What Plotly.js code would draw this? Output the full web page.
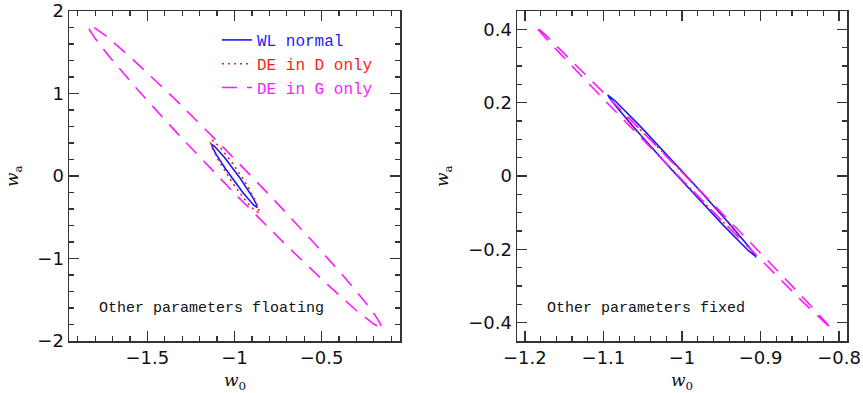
<!DOCTYPE html>
<html>
<head>
<meta charset="utf-8">
<script src="https://cdn.plot.ly/plotly-3.0.1.min.js"></script>
<style>
  html, body { margin: 0; padding: 0; background: #fff; }
  #plot { width: 863px; height: 393px; }
</style>
</head>
<body>
<div id="plot"></div>
<script>
// Fiducial model (centre of every contour)
const fiducialW0 = -1;
const fiducialWa = 0;

// Series shown in both panels
const seriesNames = ['WL normal', 'DE in D only', 'DE in G only'];
const seriesColors = ['#1a1aff', '#ff1a1a', '#ff19ff'];
const seriesDash = ['solid', '2px,4px', '15px,10px'];

// Left panel: other parameters floating (half-extent in w0, half-extent in wa, correlation)
const floatingW0Extent = [0.13, 0.14, 0.84];
const floatingWaExtent = [0.38, 0.44, 1.83];
const floatingCorr = [-0.984, -0.962, -0.9934];

// Right panel: other parameters fixed
const fixedW0Extent = [0.094, 0.073, 0.187];
const fixedWaExtent = [0.22, 0.165, 0.41];
const fixedCorr = [-0.998, -0.9978, -0.99965];

// Contour outline from the error ellipse parameters
function ellipse(sx, sy, rho) {
    const xs = [];
    const ys = [];
    const n = 720;
    const k = Math.sqrt(1 - rho * rho);
    for (let i = 0; i <= n; i++) {
        const t = 2 * Math.PI * i / n;
        xs.push(fiducialW0 + sx * Math.cos(t));
        ys.push(fiducialWa + sy * (rho * Math.cos(t) + k * Math.sin(t)));
    }
    return { xs, ys };
}

const traces = [];
seriesNames.forEach((name, i) => {
    const e = ellipse(floatingW0Extent[i], floatingWaExtent[i], floatingCorr[i]);
    traces.push({
        x: e.xs, y: e.ys,
        mode: 'lines',
        name: '<span style="color:' + seriesColors[i] + '">' + name + '</span>',
        line: { color: seriesColors[i], width: 1.6, dash: seriesDash[i] },
        xaxis: 'x', yaxis: 'y',
        hoverinfo: 'skip'
    });
});
seriesNames.forEach((name, i) => {
    const e = ellipse(fixedW0Extent[i], fixedWaExtent[i], fixedCorr[i]);
    traces.push({
        x: e.xs, y: e.ys,
        mode: 'lines',
        name: name,
        showlegend: false,
        line: { color: seriesColors[i], width: 1.6, dash: seriesDash[i] },
        xaxis: 'x2', yaxis: 'y2',
        hoverinfo: 'skip'
    });
});

const frame = '#333';
const tickFont = { family: 'DejaVu Sans', size: 18, color: '#111' };

function axis(range, dtick, minorDtick, domain, anchor) {
    return {
        range: range,
        domain: domain,
        anchor: anchor,
        dtick: dtick,
        tick0: 0,
        showgrid: false,
        zeroline: false,
        showline: true,
        linecolor: frame,
        linewidth: 1.5,
        mirror: 'allticks',
        ticks: 'inside',
        ticklen: 10,
        tickwidth: 1.3,
        tickcolor: frame,
        tickfont: tickFont,
        minor: { ticks: 'inside', ticklen: 5, tickwidth: 1.2, tickcolor: frame, dtick: minorDtick, showgrid: false }
    };
}

const yDomain = [1 - 341 / 393, 1 - 11 / 393];

const titleFont = { family: 'DejaVu Serif', size: 17, color: '#111' };
const noteFont = { family: 'Liberation Mono', size: 15, color: '#111' };

const layout = {
    width: 863,
    height: 393,
    margin: { l: 0, r: 0, t: 0, b: 0 },
    paper_bgcolor: '#fff',
    plot_bgcolor: '#fff',
    showlegend: true,
    legend: {
        x: 217 / 863, xanchor: 'left',
        y: 1 - 23 / 393, yanchor: 'top',
        bgcolor: 'rgba(0,0,0,0)',
        font: { family: 'Liberation Mono', size: 16 },
        itemwidth: 30,
        tracegroupgap: 0
    },
    xaxis: axis([-1.95, -0.05], 0.5, 0.1, [69 / 863, 400 / 863], 'y'),
    yaxis: axis([-2, 2], 1, 0.2, yDomain, 'x'),
    xaxis2: axis([-1.21, -0.79], 0.1, 0.02, [517 / 863, 847 / 863], 'y2'),
    yaxis2: axis([-0.45, 0.45], 0.2, 0.05, yDomain, 'x2'),
    annotations: [
        { text: 'Other parameters floating', xref: 'x domain', yref: 'y domain', x: 0.085, y: 0.097,
          xanchor: 'left', yanchor: 'middle', showarrow: false, font: noteFont },
        { text: 'Other parameters fixed', xref: 'x2 domain', yref: 'y2 domain', x: 0.085, y: 0.097,
          xanchor: 'left', yanchor: 'middle', showarrow: false, font: noteFont },
        { text: '<i>w</i><sub>0</sub>', xref: 'x domain', yref: 'y domain', x: 0.5, y: -0.083,
          xanchor: 'center', yanchor: 'top', showarrow: false, font: titleFont },
        { text: '<i>w</i><sub>0</sub>', xref: 'x2 domain', yref: 'y2 domain', x: 0.5, y: -0.083,
          xanchor: 'center', yanchor: 'top', showarrow: false, font: titleFont },
        { text: '<i>w</i><sub>a</sub>', xref: 'x domain', yref: 'y domain', x: -0.169, y: 0.5,
          xanchor: 'center', yanchor: 'middle', textangle: -90, showarrow: false, font: titleFont },
        { text: '<i>w</i><sub>a</sub>', xref: 'x2 domain', yref: 'y2 domain', x: -0.224, y: 0.5,
          xanchor: 'center', yanchor: 'middle', textangle: -90, showarrow: false, font: titleFont }
    ]
};

Plotly.newPlot('plot', traces, layout, { displayModeBar: false, staticPlot: true });
</script>
</body>
</html>
